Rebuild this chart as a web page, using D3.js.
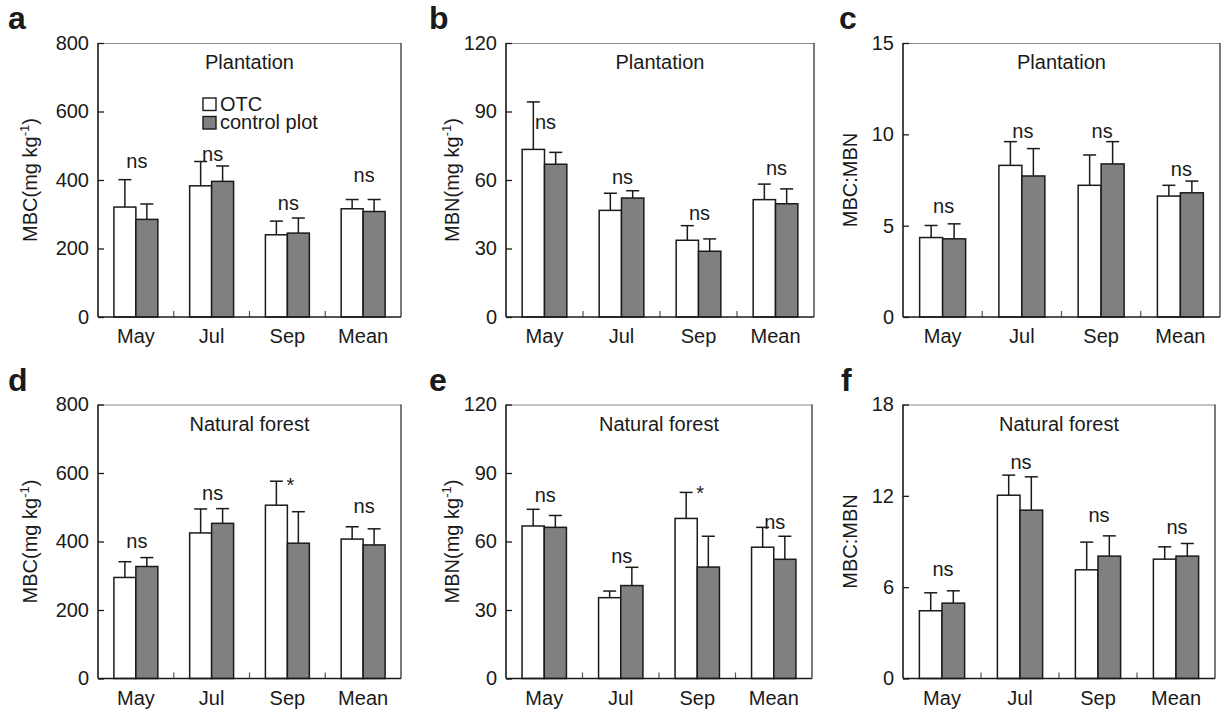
<!DOCTYPE html>
<html>
<head>
<meta charset="utf-8">
<script src="https://cdn.jsdelivr.net/npm/d3@7"></script>
<style>
  body { margin: 0; background: #fff; }
  text { font-family: "Liberation Sans", Arial, sans-serif; fill: #1a1a1a; }
</style>
</head>
<body>
<script>
// categories
var months = ["May", "Jul", "Sep", "Mean"];
var groups = ["OTC", "control plot"];

// a: MBC plantation
var mbcPlantOTC = [321, 383, 240, 316],
	mbcPlantOTCse = [80, 71, 40, 27],
	mbcPlantCtl = [285, 396, 245, 308],
	mbcPlantCtlse = [45, 45, 44, 35],
	mbcPlantSig = ["ns", "ns", "ns", "ns"],
	mbcPlantSigY = [450, 470, 326, 409];

// b: MBN plantation
var mbnPlantOTC = [73.4, 46.7, 33.6, 51.4],
	mbnPlantOTCse = [20.8, 7.5, 6.4, 6.8],
	mbnPlantCtl = [66.9, 52.1, 28.8, 49.6],
	mbnPlantCtlse = [5.2, 3.2, 5.4, 6.5],
	mbnPlantSig = ["ns", "ns", "ns", "ns"],
	mbnPlantSigY = [84.7, 60.3, 44.8, 64.2];

// c: MBC:MBN plantation
var ratioPlantOTC = [4.35, 8.30, 7.21, 6.62],
	ratioPlantOTCse = [0.66, 1.30, 1.66, 0.59],
	ratioPlantCtl = [4.28, 7.72, 8.38, 6.80],
	ratioPlantCtlse = [0.82, 1.50, 1.22, 0.64],
	ratioPlantSig = ["ns", "ns", "ns", "ns"],
	ratioPlantSigY = [5.94, 10.1, 10.1, 8.0];

// d: MBC natural forest
var mbcNatOTC = [295, 425, 506, 407],
	mbcNatOTCse = [46, 70, 70, 36],
	mbcNatCtl = [327, 453, 395, 390],
	mbcNatCtlse = [26, 43, 92, 47],
	mbcNatSig = ["ns", "ns", "*", "ns"],
	mbcNatSigY = [397, 535, 578, 498];

// e: MBN natural forest
var mbnNatOTC = [66.8, 35.4, 70.1, 57.5],
	mbnNatOTCse = [7.3, 2.9, 11.4, 8.7],
	mbnNatCtl = [66.2, 40.7, 48.8, 52.2],
	mbnNatCtlse = [5.2, 8.0, 13.5, 10.1],
	mbnNatSig = ["ns", "ns", "*", "ns"],
	mbnNatSigY = [79.5, 52.9, 83.1, 67.5];

// f: MBC:MBN natural forest
var ratioNatOTC = [4.45, 12.04, 7.14, 7.84],
	ratioNatOTCse = [1.18, 1.32, 1.82, 0.81],
	ratioNatCtl = [4.95, 11.06, 8.04, 8.04],
	ratioNatCtlse = [0.81, 2.19, 1.33, 0.83],
	ratioNatSig = ["ns", "ns", "ns", "ns"],
	ratioNatSigY = [7.07, 14.1, 10.6, 9.85];

// y tick values
var ticksMBC = [0, 200, 400, 600, 800],
	ticksMBN = [0, 30, 60, 90, 120],
	ticksRatioP = [0, 5, 10, 15],
	ticksRatioN = [0, 6, 12, 18];

var width = 1225, height = 709;
var fontSize = 20;

var svg = d3.select('body')
	.append('svg')
	.attr('width', width)
	.attr('height', height);

// panel layout
var panels = [
	{ id: 'a', letterX: 8, left: 98, top: 43, w: 303, h: 274, title: 'Plantation', ticks: ticksMBC, ylab: 'mass', yname: 'MBC', labX: 30,
	  otc: mbcPlantOTC, otcSe: mbcPlantOTCse, ctl: mbcPlantCtl, ctlSe: mbcPlantCtlse, sig: mbcPlantSig, sigY: mbcPlantSigY, legend: true },
	{ id: 'b', letterX: 429, left: 506, top: 43, w: 308, h: 274, title: 'Plantation', ticks: ticksMBN, ylab: 'mass', yname: 'MBN', labX: 452,
	  otc: mbnPlantOTC, otcSe: mbnPlantOTCse, ctl: mbnPlantCtl, ctlSe: mbnPlantCtlse, sig: mbnPlantSig, sigY: mbnPlantSigY },
	{ id: 'c', letterX: 839, left: 903, top: 43, w: 317, h: 274, title: 'Plantation', ticks: ticksRatioP, ylab: 'ratio', labX: 850,
	  otc: ratioPlantOTC, otcSe: ratioPlantOTCse, ctl: ratioPlantCtl, ctlSe: ratioPlantCtlse, sig: ratioPlantSig, sigY: ratioPlantSigY },
	{ id: 'd', letterX: 8, left: 98, top: 404.5, w: 303, h: 274, title: 'Natural forest', ticks: ticksMBC, ylab: 'mass', yname: 'MBC', labX: 30,
	  otc: mbcNatOTC, otcSe: mbcNatOTCse, ctl: mbcNatCtl, ctlSe: mbcNatCtlse, sig: mbcNatSig, sigY: mbcNatSigY },
	{ id: 'e', letterX: 429, left: 506, top: 404.5, w: 306, h: 274, title: 'Natural forest', ticks: ticksMBN, ylab: 'mass', yname: 'MBN', labX: 452,
	  otc: mbnNatOTC, otcSe: mbnNatOTCse, ctl: mbnNatCtl, ctlSe: mbnNatCtlse, sig: mbnNatSig, sigY: mbnNatSigY },
	{ id: 'f', letterX: 841, left: 903, top: 404.5, w: 312, h: 274, title: 'Natural forest', ticks: ticksRatioN, ylab: 'ratio', labX: 850,
	  otc: ratioNatOTC, otcSe: ratioNatOTCse, ctl: ratioNatCtl, ctlSe: ratioNatCtlse, sig: ratioNatSig, sigY: ratioNatSigY }
];

panels.forEach(drawPanel);

function drawPanel(p) {
	var g = svg.append('g').attr('transform', `translate(${p.left},${p.top})`);

	var x = d3.scaleBand().domain(months).range([0, p.w]);
	var half = x.bandwidth() * 0.29;
	var x1 = d3.scaleBand().domain(groups).range([-half, half]);
	var y = d3.scaleLinear().domain([0, d3.max(p.ticks)]).range([p.h, 0]);

	// frame top / right
	g.append('line').attr('x1', 0).attr('x2', p.w).attr('y1', 0.5).attr('y2', 0.5)
		.attr('stroke', '#8a8a8a').attr('stroke-width', 1.2);
	g.append('line').attr('x1', p.w).attr('x2', p.w).attr('y1', 0).attr('y2', p.h)
		.attr('stroke', '#333').attr('stroke-width', 1.3);

	// y axis
	var yAxis = g.append('g')
		.call(d3.axisLeft(y).tickValues(p.ticks).tickSizeInner(-6).tickSizeOuter(0).tickPadding(9));
	yAxis.select('.domain').remove();
	yAxis.selectAll('line').attr('stroke', '#1a1a1a').attr('stroke-width', 1.3);
	yAxis.selectAll('text').attr('font-size', fontSize).attr('font-family', '"Liberation Sans", Arial, sans-serif').attr('fill', '#1a1a1a');

	// x axis labels + category separators
	var xAxis = g.append('g').attr('transform', `translate(0,${p.h})`)
		.call(d3.axisBottom(x).tickSize(0).tickPadding(12));
	xAxis.select('.domain').remove();
	xAxis.selectAll('text').attr('font-size', fontSize).attr('font-family', '"Liberation Sans", Arial, sans-serif').attr('fill', '#1a1a1a');

	g.selectAll('.sep')
		.data(months.slice(1))
		.enter().append('line')
		.attr('x1', function(d) { return x(d); })
		.attr('x2', function(d) { return x(d); })
		.attr('y1', p.h).attr('y2', p.h - 6)
		.attr('stroke', '#555').attr('stroke-width', 1.2);

	// bars
	var rows = months.map(function(m, i) {
		return [
			{ m: m, grp: groups[0], v: p.otc[i], se: p.otcSe[i] },
			{ m: m, grp: groups[1], v: p.ctl[i], se: p.ctlSe[i] }
		];
	});
	var flat = [].concat.apply([], rows);

	var cell = g.selectAll('.bar')
		.data(flat)
		.enter().append('g')
		.attr('transform', function(d) { return `translate(${x(d.m) + x.bandwidth() / 2 + x1(d.grp)},0)`; });

	// error bars (upper only)
	cell.append('line')
		.attr('x1', x1.bandwidth() / 2).attr('x2', x1.bandwidth() / 2)
		.attr('y1', function(d) { return y(d.v); })
		.attr('y2', function(d) { return y(d.v + d.se); })
		.attr('stroke', '#1a1a1a').attr('stroke-width', 1.5);
	cell.append('line')
		.attr('x1', x1.bandwidth() / 2 - 6.5).attr('x2', x1.bandwidth() / 2 + 6.5)
		.attr('y1', function(d) { return y(d.v + d.se); })
		.attr('y2', function(d) { return y(d.v + d.se); })
		.attr('stroke', '#1a1a1a').attr('stroke-width', 1.5);

	cell.append('rect')
		.attr('x', 0)
		.attr('width', x1.bandwidth())
		.attr('y', function(d) { return y(d.v); })
		.attr('height', function(d) { return y(0) - y(d.v); })
		.attr('fill', function(d) { return d.grp === 'OTC' ? '#fff' : '#808080'; })
		.attr('stroke', '#1a1a1a').attr('stroke-width', 1.5);

	// left and bottom axis lines
	g.append('line').attr('x1', 0).attr('x2', 0).attr('y1', 0).attr('y2', p.h)
		.attr('stroke', '#1a1a1a').attr('stroke-width', 1.6);
	g.append('line').attr('x1', 0).attr('x2', p.w).attr('y1', p.h).attr('y2', p.h)
		.attr('stroke', '#1a1a1a').attr('stroke-width', 1.6);

	// significance labels
	g.selectAll('.sig')
		.data(p.sig)
		.enter().append('text')
		.attr('x', function(d, i) { return x(months[i]) + x.bandwidth() / 2 + (d === '*' ? 3 : 1); })
		.attr('y', function(d, i) { return y(p.sigY[i]) + (d === '*' ? 11 : 5); })
		.attr('text-anchor', 'middle')
		.attr('font-size', fontSize)
		.text(function(d) { return d; });

	// title
	g.append('text')
		.attr('x', p.w / 2).attr('y', 26)
		.attr('text-anchor', 'middle')
		.attr('font-size', fontSize)
		.text(p.title);

	// panel letter
	svg.append('text')
		.attr('x', p.letterX).attr('y', p.top - 14)
		.attr('font-size', 32).attr('font-weight', 'bold')
		.text(p.id);

	// y axis title
	var lab = svg.append('text')
		.attr('transform', `translate(${p.labX + 7},${p.top + p.h / 2}) rotate(-90)`)
		.attr('text-anchor', 'middle')
		.attr('font-size', fontSize);
	if (p.ylab === 'mass') {
		lab.append('tspan').text(p.yname + '(mg kg');
		lab.append('tspan').attr('dy', -8).attr('font-size', 13).text('-1');
		lab.append('tspan').attr('dy', 8).text(')');
	} else {
		lab.text('MBC:MBN');
	}

	// legend
	if (p.legend) {
		var lg = g.append('g').attr('transform', 'translate(105,55)');
		groups.forEach(function(grp, i) {
			lg.append('rect')
				.attr('x', 0).attr('y', i * 18.5)
				.attr('width', 13).attr('height', 12.5)
				.attr('fill', i === 0 ? '#fff' : '#808080')
				.attr('stroke', '#1a1a1a').attr('stroke-width', 1.4);
			lg.append('text')
				.attr('x', 17).attr('y', i * 18.5 + 12.5)
				.attr('font-size', fontSize)
				.text(grp);
		});
	}
}
</script>
</body>
</html>
